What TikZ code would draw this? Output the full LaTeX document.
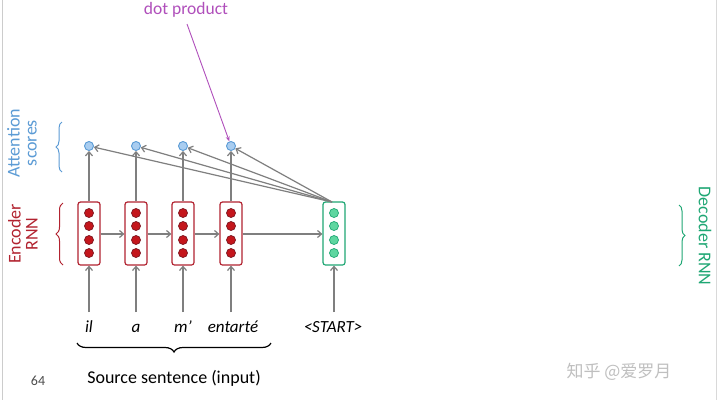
\documentclass[tikz,border=0pt]{standalone}
\usepackage{fontspec}
\setmainfont{Carlito}
\newfontfamily\cjk{Noto Sans CJK SC}
\usetikzlibrary{arrows.meta,decorations.pathreplacing}
\definecolor{encred}{HTML}{B22330}
\definecolor{encdot}{HTML}{C4161C}
\definecolor{decgreen}{HTML}{1FA774}
\definecolor{decdot}{HTML}{5ED6A0}
\definecolor{attblue}{HTML}{5B9BD5}
\definecolor{attfill}{HTML}{A9CDF0}
\definecolor{arrgray}{HTML}{7F7F7F}
\definecolor{dotpurple}{HTML}{B04FBB}
\begin{document}
\begin{tikzpicture}[x=1pt,y=-1pt,
  encbox/.style={draw=encred,line width=1.2pt,rounded corners=2.5pt,minimum width=22pt,minimum height=63pt,inner sep=0pt},
  decbox/.style={draw=decgreen,line width=1.2pt,rounded corners=2.5pt,minimum width=22pt,minimum height=63pt,inner sep=0pt},
  encdotst/.style={circle,draw=encred!70!black,fill=encdot,line width=0.7pt,minimum size=9pt,inner sep=0pt},
  decdotst/.style={circle,draw=decgreen,fill=decdot,line width=0.7pt,minimum size=9pt,inner sep=0pt},
  score/.style={circle,draw=attblue,fill=attfill,line width=0.9pt,minimum size=9pt,inner sep=0pt},
  arr/.style={draw=arrgray,line width=1.2pt,-{Straight Barb[length=4pt,width=7pt]}},
  word/.style={font=\fontsize{17}{19}\selectfont\itshape,anchor=base},
  lbl/.style={font=\fontsize{18}{19}\selectfont,align=center}
]
\fill[white] (0,0) rectangle (720,400);
\useasboundingbox (0,0) rectangle (720,400);
\draw[black!20,line width=0.8pt] (2,0) -- (2,400);
\draw[black!15,line width=0.8pt] (716,0) -- (716,400);

% encoder boxes
\foreach \i/\x in {1/89,2/136,3/183,4/231}{
  \node[encbox] (e\i) at (\x,233.5) {};
  \foreach \j/\y in {1/213,2/226,3/240,4/253}
    \node[encdotst] (e\i d\j) at (\x,\y) {};
  \node[score] (s\i) at (\x,146) {};
}
\node[decbox] (d) at (334,233.5) {};
\foreach \j/\y in {1/213,2/226,3/240,4/253}
  \node[decdotst] (dd\j) at (334,\y) {};

% words
\node[word] (w1) at (89,332) {il};
\node[word] (w2) at (136,332) {a};
\node[word] (w3) at (183,332) {m’};
\node[word] (w4) at (233,332) {entarté};
\node[word] (w5) at (333,332) {<START>};

% input arrows
\foreach \i in {1,2,3,4}{
  \draw[arr] (e\i.south |- 0,312) -- (e\i.south);
  \draw[arr] (e\i.north) -- (s\i.south);
}
\draw[arr] (d.south |- 0,312) -- (d.south);

% horizontal arrows
\draw[arr] (e1.east |- 0,234) -- (e2.west |- 0,234);
\draw[arr] (e2.east |- 0,234) -- (e3.west |- 0,234);
\draw[arr] (e3.east |- 0,234) -- (e4.west |- 0,234);
\draw[arr] (e4.east |- 0,234) -- (d.west |- 0,234);

% decoder to scores
\coordinate (dt) at (332,202);
\foreach \i in {1,2,3,4}
  \draw[arr] (dt) -- (s\i);

% dot product
\node[font=\fontsize{17.5}{19}\selectfont,text=dotpurple] (dp) at (186,10) {dot product};
\draw[draw=dotpurple,line width=0.9pt,-{Stealth[length=5pt,width=4pt]}] (187,24) -- (s4);

% left labels
\node[lbl,text=attblue,rotate=90] (att) at (22,143) {Attention\\[-2pt]scores};
\draw[attblue,line width=1pt,decorate,decoration={brace,amplitude=6pt}] (62,172) -- (62,122);
\node[lbl,text=encred,rotate=90] (enc) at (23,234) {Encoder\\[-2pt]RNN};
\draw[encred,line width=1pt,decorate,decoration={brace,amplitude=7pt}] (63,265) -- (63,203);

% right label
\node[lbl,text=decgreen,rotate=-90] (dec) at (705,236) {Decoder RNN};
\draw[decgreen,line width=1pt,decorate,decoration={brace,amplitude=6pt}] (679,205) -- (679,266);

% source brace
\draw[black,line width=1.2pt,decorate,decoration={brace,amplitude=9pt,mirror}] (77,343) -- (271,343);
\node[font=\fontsize{18}{20}\selectfont] (src) at (174,378) {Source sentence (input)};
\node[font=\fontsize{14}{15}\selectfont,text=black!70] (pg) at (38,381) {64};

% watermark
\node[font=\cjk\fontsize{17}{19}\selectfont,text=black!25] (wm) at (619,372) {知乎 @爱罗月};
\end{tikzpicture}
\end{document}
